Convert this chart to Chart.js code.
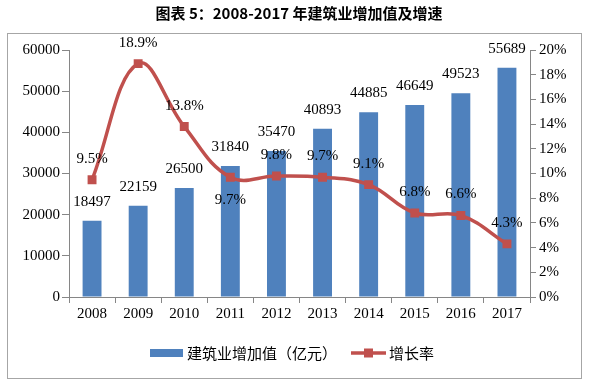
<!DOCTYPE html>
<html>
<head>
<meta charset="utf-8">
<script src="https://cdn.jsdelivr.net/npm/chart.js@4"></script>
<style>
  body { margin: 0; background: #fff; }
  #wrap { width: 589px; height: 383px; }
</style>
</head>
<body>
<div id="wrap"><canvas id="chart" width="589" height="383"></canvas></div>
<script>
// data
const years = ['2008', '2009', '2010', '2011', '2012', '2013', '2014', '2015', '2016', '2017'];
const addedValue = [18497, 22159, 26500, 31840, 35470, 40893, 44885, 46649, 49523, 55689]; // 亿元
const growthRate = [9.5, 18.9, 13.8, 9.7, 9.8, 9.7, 9.1, 6.8, 6.6, 4.3]; // %
const valueTicks = [0, 10000, 20000, 30000, 40000, 50000, 60000];
const rateTicks = [0, 2, 4, 6, 8, 10, 12, 14, 16, 18, 20];

const BLUE = '#4F81BD';
const RED = '#C0504D';
const AXIS = '#868686';
const serif = '"Liberation Serif", "Times New Roman", serif';
const cjk = '"Noto Sans CJK SC", sans-serif';

// label under the point only for 2011, the rest sit above
const rateLabelBelow = years.map(y => y === '2011');

// frame, title, legend and value labels
const decor = {
  id: 'decor',
  beforeDraw(chart) {
    const c = chart.ctx;
    c.save();
    c.fillStyle = '#fff';
    c.fillRect(0, 0, chart.width, chart.height);
    c.strokeStyle = '#a6a6a6';
    c.lineWidth = 1;
    c.strokeRect(7.5, 33.5, 574, 345);
    c.fillStyle = '#000';
    c.font = 'bold 15px ' + cjk;
    c.textAlign = 'center';
    c.textBaseline = 'middle';
    c.fillText('图表 5：2008-2017 年建筑业增加值及增速', 299, 13);
    c.restore();
  },
  afterDatasetsDraw(chart) {
    const c = chart.ctx;
    c.save();
    c.font = '15px ' + serif;
    c.fillStyle = '#000';
    c.textAlign = 'center';
    c.textBaseline = 'middle';
    chart.getDatasetMeta(1).data.forEach((bar, i) => {
      c.fillText(String(addedValue[i]), bar.x, bar.y - 19);
    });
    chart.getDatasetMeta(0).data.forEach((pt, i) => {
      const dy = rateLabelBelow[i] ? 23 : -21;
      c.fillText(growthRate[i].toFixed(1) + '%', pt.x, pt.y + dy);
    });

    // legend
    const ly = 353;
    c.fillStyle = BLUE;
    c.fillRect(150, ly - 4, 33, 8);
    c.fillStyle = '#000';
    c.font = '15px ' + cjk;
    c.textAlign = 'left';
    c.fillText('建筑业增加值（亿元）', 187, ly);
    c.strokeStyle = RED;
    c.lineWidth = 3.5;
    c.beginPath();
    c.moveTo(351, ly);
    c.lineTo(386, ly);
    c.stroke();
    c.fillStyle = RED;
    c.fillRect(364, ly - 4.5, 9, 9);
    c.fillStyle = '#000';
    c.fillText('增长率', 389, ly);
    c.restore();
  }
};

new Chart(document.getElementById('chart'), {
  data: {
    labels: years,
    datasets: [
      {
        type: 'line',
        label: '增长率',
        data: growthRate,
        yAxisID: 'y1',
        borderColor: RED,
        backgroundColor: RED,
        borderWidth: 3.5,
        tension: 0.4,
        pointStyle: 'rect',
        pointRadius: 6.3,
        pointBorderWidth: 0,
        order: 0
      },
      {
        type: 'bar',
        label: '建筑业增加值（亿元）',
        data: addedValue,
        yAxisID: 'y',
        backgroundColor: BLUE,
        barPercentage: 0.41,
        categoryPercentage: 1,
        order: 1
      }
    ]
  },
  options: {
    responsive: false,
    animation: false,
    layout: { padding: { top: 50, left: 0, right: 0, bottom: 0 } },
    plugins: {
      legend: { display: false },
      tooltip: { enabled: false }
    },
    scales: {
      x: {
        offset: true,
        grid: { offset: true, drawOnChartArea: false, tickLength: 6, color: AXIS },
        border: { color: AXIS },
        ticks: { color: '#000', font: { family: serif, size: 15 }, padding: 2, maxRotation: 0 },
        afterFit(s) { s.height = 86; }
      },
      y: {
        position: 'left',
        min: 0,
        max: 60000,
        afterBuildTicks(s) { s.ticks = valueTicks.map(v => ({ value: v })); },
        grid: { drawOnChartArea: false, tickLength: 7, color: AXIS },
        border: { color: AXIS },
        ticks: { color: '#000', font: { family: serif, size: 15 }, padding: 2, callback: v => String(v) },
        afterFit(s) { s.width = 69; }
      },
      y1: {
        position: 'right',
        min: 0,
        max: 20,
        afterBuildTicks(s) { s.ticks = rateTicks.map(v => ({ value: v })); },
        grid: { drawOnChartArea: false, tickLength: 6, color: AXIS },
        border: { color: AXIS },
        ticks: { color: '#000', font: { family: serif, size: 15 }, padding: 3, callback: v => v + '%' },
        afterFit(s) { s.width = 59; }
      }
    }
  },
  plugins: [decor]
});
</script>
</body>
</html>
